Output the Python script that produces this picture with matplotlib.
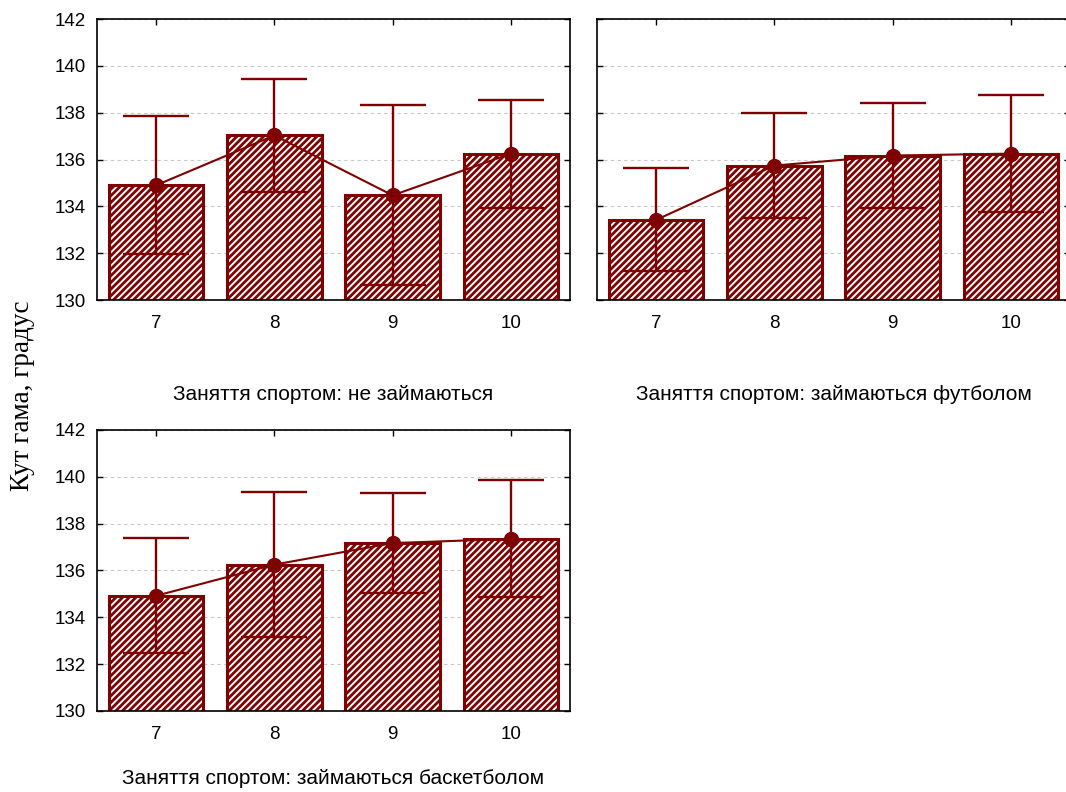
import matplotlib.pyplot as plt
import numpy as np

plt.rcParams['font.family'] = ['Liberation Sans', 'DejaVu Sans']
plt.rcParams['hatch.linewidth'] = 2.0
plt.rcParams['hatch.color'] = '#7f0000'

# вік (роки)
ages = ['7', '8', '9', '10']

# середні значення кута гама та половина довірчого інтервалу
mean_none = [134.9, 137.03, 134.47, 136.25]
err_none = [2.95, 2.4, 3.85, 2.3]

mean_foot = [133.42, 135.74, 136.17, 136.25]
err_foot = [2.2, 2.25, 2.25, 2.5]

mean_bask = [134.92, 136.25, 137.17, 137.35]
err_bask = [2.45, 3.1, 2.15, 2.5]

titles = ['Заняття спортом: не займаються',
          'Заняття спортом: займаються футболом',
          'Заняття спортом: займаються баскетболом']

red = '#7f0000'

fig = plt.figure(figsize=(10.66, 7.92), dpi=100)
rects = [[0.091, 0.6212, 0.4437, 0.3548],
         [0.560, 0.6212, 0.4437, 0.3548],
         [0.091, 0.1023, 0.4437, 0.3548]]
title_y = [-0.338, -0.338, -0.242]   # підписи під графіками
data = [(mean_none, err_none), (mean_foot, err_foot), (mean_bask, err_bask)]

for i, (rect, (m, e), title) in enumerate(zip(rects, data, titles)):
    ax = fig.add_axes(rect)
    x = np.arange(len(ages))
    ax.bar(x, m, width=0.8, bottom=0, facecolor='white', edgecolor=red,
           hatch='/////', linewidth=2.2, zorder=2)
    ax.errorbar(x, m, yerr=e, fmt='none', ecolor=red, elinewidth=1.7,
                capsize=23.5, capthick=1.7, zorder=3)
    ax.plot(x, m, color=red, linewidth=1.5, marker='o', markersize=10, zorder=4)
    ax.set_xlim(-0.5, 3.5)
    ax.set_ylim(130, 142)
    ax.set_xticks(x)
    ax.set_xticklabels(ages)
    ax.set_yticks(range(130, 143, 2))
    ax.yaxis.grid(True, linestyle=(0, (3, 3)), color='#c8c8c8', linewidth=0.8, zorder=0)
    ax.set_axisbelow(True)
    ax.tick_params(direction='in', length=4, width=1, top=True, right=True, labelsize=13.5)
    ax.tick_params(axis='x', pad=11)
    ax.tick_params(axis='y', pad=8)
    if i == 1:
        ax.tick_params(axis='y', labelleft=False)
    for s in ax.spines.values():
        s.set_linewidth(1.2)
    ax.text(0.5, title_y[i], title, transform=ax.transAxes, ha='center', va='center', fontsize=15)

fig.text(0.021, 0.5, 'Кут гама, градус', rotation=90, ha='center', va='center',
         fontsize=19.5, family=['Liberation Serif', 'DejaVu Serif'])

plt.savefig('out.png', dpi=100)
